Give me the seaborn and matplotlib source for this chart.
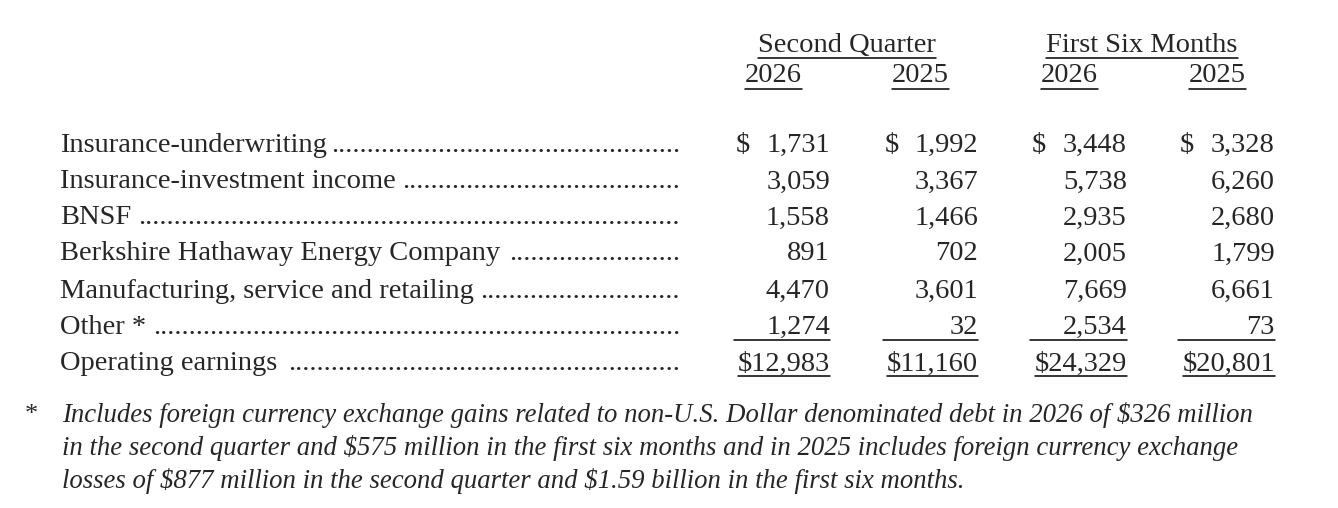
import matplotlib
matplotlib.use("Agg")
import matplotlib.pyplot as plt
import seaborn as sns

sns.set_theme(style="white")
plt.rcParams['font.family'] = ['Liberation Serif', 'DejaVu Serif']

groups = ["Second Quarter", "First Six Months"]
years = ["2026", "2025", "2026", "2025"]
categories = ["Insurance-underwriting", "Insurance-investment income", "BNSF",
              "Berkshire Hathaway Energy Company", "Manufacturing, service and retailing",
              "Other *", "Operating earnings"]
q2_2026 = [1731, 3059, 1558, 891, 4470, 1274, 12983]
q2_2025 = [1992, 3367, 1466, 702, 3601, 32, 11160]
h1_2026 = [3448, 5738, 2935, 2005, 7669, 2534, 24329]
h1_2025 = [3328, 6260, 2680, 1799, 6661, 73, 20801]
footnote = ["Includes foreign currency exchange gains related to non-U.S. Dollar denominated debt in 2026 of $326 million",
            "in the second quarter and $575 million in the first six months and in 2025 includes foreign currency exchange",
            "losses of $877 million in the second quarter and $1.59 billion in the first six months."]

W, H = 1338, 508
fig = plt.figure(figsize=(W/100, H/100), dpi=100)
ax = fig.add_axes([0, 0, 1, 1])
ax.set_xlim(0, W); ax.set_ylim(H, 0); ax.axis("off")
FS = 20.5
fig.canvas.draw()
r = fig.canvas.get_renderer()

def uline(x0, x1, y):
    ax.plot([x0, x1], [y, y], color="black", lw=1.1)

for gx, g in zip([847, 1142], groups):
    t = ax.text(gx, 45, g, ha="center", va="center", fontsize=FS)
    bb = t.get_window_extent(r)
    uline(bb.x0, bb.x1, 58)
col_right = [830, 978, 1127, 1275]
col_left = [736, 885, 1032, 1180]
for x, yr in zip([773, 920, 1069, 1217], years):
    t = ax.text(x, 76, yr, ha="center", va="center", fontsize=FS)
    bb = t.get_window_extent(r)
    uline(bb.x0, bb.x1, 89)

rows_y = [145, 182, 218, 254, 291, 327, 364]
cols = [q2_2026, q2_2025, h1_2026, h1_2025]
for i, (cat, y) in enumerate(zip(categories, rows_y)):
    t = ax.text(60, y, cat, ha="left", va="center", fontsize=FS)
    start = t.get_window_extent(r).x1 + 4
    d = ax.text(680, y, ".", ha="right", va="center", fontsize=FS)
    n = 1
    while True:
        d.set_text("." * (n + 1))
        if d.get_window_extent(r).x0 < start:
            d.set_text("." * n)
            break
        n += 1
    for c, vals in enumerate(cols):
        s = f"{vals[i]:,}"
        if i == len(categories) - 1:
            t2 = ax.text(col_right[c], y, "$" + s, ha="right", va="center", fontsize=FS, parse_math=False)
            bb2 = t2.get_window_extent(r)
            uline(bb2.x0, bb2.x1, y + 12)
        else:
            ax.text(col_right[c], y, s, ha="right", va="center", fontsize=FS)
            if i == 0:
                ax.text(col_left[c], y, "$", ha="left", va="center", fontsize=FS, parse_math=False)
            if i == len(categories) - 2:
                uline(col_left[c] - 2, col_right[c], y + 13)

ax.text(25, 415, "*", ha="left", va="center", fontsize=19)
for j, line in enumerate(footnote):
    ax.text(62, 415 + j * 33, line, ha="left", va="center", fontsize=19.3,
            style="italic", parse_math=False)

fig.savefig("out.png", dpi=100, facecolor="white")
